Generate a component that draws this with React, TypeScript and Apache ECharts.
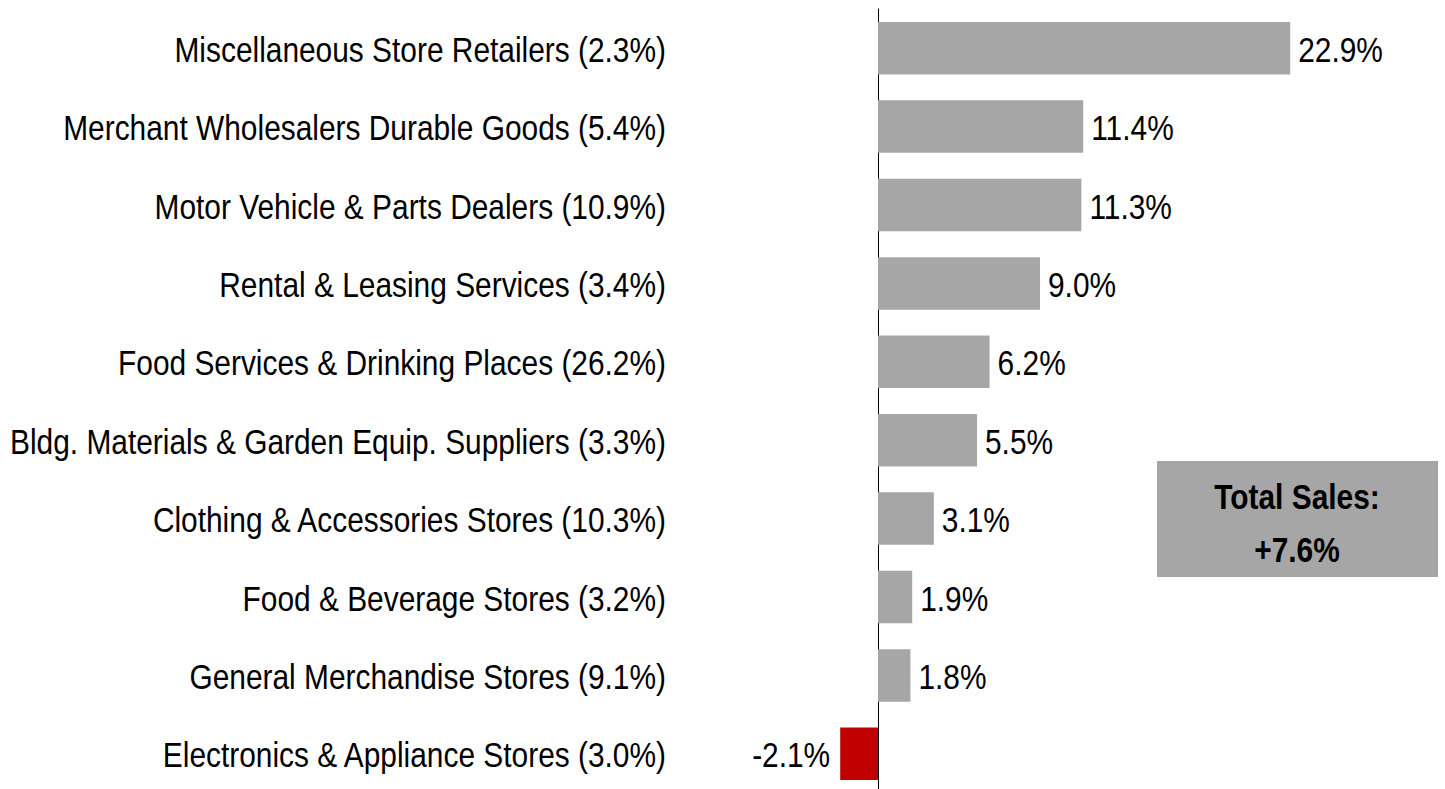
import React, { useEffect, useRef } from "react";
import * as echarts from "echarts";

const categories = [
  "Miscellaneous Store Retailers (2.3%)",
  "Merchant Wholesalers Durable Goods (5.4%)",
  "Motor Vehicle & Parts Dealers (10.9%)",
  "Rental & Leasing Services (3.4%)",
  "Food Services & Drinking Places (26.2%)",
  "Bldg. Materials & Garden Equip. Suppliers (3.3%)",
  "Clothing & Accessories Stores (10.3%)",
  "Food & Beverage Stores (3.2%)",
  "General Merchandise Stores (9.1%)",
  "Electronics & Appliance Stores (3.0%)",
];
const values = [22.9, 11.4, 11.3, 9.0, 6.2, 5.5, 3.1, 1.9, 1.8, -2.1];
const totalLines = ["Total Sales:", "+7.6%"];

const FONT = "'Liberation Sans', Arial, sans-serif";
const FS = 36;
const SX = 0.83;

export default function App() {
  const ref = useRef<HTMLDivElement>(null);
  useEffect(() => {
    if (!ref.current) return;
    const chart = echarts.init(ref.current, null, { renderer: "svg" });
    chart.setOption({
      animation: false,
      backgroundColor: "#ffffff",
      grid: { left: 788, width: 630, top: 9, height: 784, containLabel: false, outerBoundsMode: "none" },
      xAxis: {
        type: "value",
        min: -5,
        max: 30,
        show: false,
        splitLine: { show: false },
      },
      yAxis: {
        type: "category",
        data: categories,
        inverse: true,
        axisLine: { show: true, onZero: true, lineStyle: { color: "#000", width: 1 } },
        axisTick: { show: false },
        axisLabel: { show: false },
      },
      series: [
        {
          type: "bar",
          barWidth: "67%",
          data: values.map((v) => ({
            value: v,
            itemStyle: { color: v < 0 ? "#c00000" : "#a6a6a6" },
          })),
        },
      ],
    });

    const texts: any[] = [];
    categories.forEach((c, i) => {
      const p = chart.convertToPixel({ xAxisIndex: 0, yAxisIndex: 0 }, [0, i]) as number[];
      texts.push({
        type: "text",
        x: p[0] - 212,
        y: p[1] + 1,
        scaleX: SX,
        style: {
          text: c,
          fontSize: FS,
          fontFamily: FONT,
          fill: "#000",
          align: "right",
          verticalAlign: "middle",
        },
      });
    });
    values.forEach((v, i) => {
      const p = chart.convertToPixel({ xAxisIndex: 0, yAxisIndex: 0 }, [v, i]) as number[];
      texts.push({
        type: "text",
        x: v < 0 ? p[0] - 10 : p[0] + 8,
        y: p[1] + 1,
        scaleX: SX,
        style: {
          text: v.toFixed(1) + "%",
          fontSize: FS,
          fontFamily: FONT,
          fill: "#000",
          align: v < 0 ? "right" : "left",
          verticalAlign: "middle",
        },
      });
    });

    chart.setOption({
      graphic: [
        ...texts,
        {
          type: "rect",
          shape: { x: 1157, y: 461, width: 281, height: 116 },
          style: { fill: "#a6a6a6" },
        },
        {
          type: "text",
          x: 1297,
          y: 496,
          scaleX: SX,
          style: {
            text: totalLines[0],
            fontSize: FS,
            fontWeight: "bold",
            fontFamily: FONT,
            fill: "#000",
            align: "center",
            verticalAlign: "middle",
          },
        },
        {
          type: "text",
          x: 1297,
          y: 549,
          scaleX: SX,
          style: {
            text: totalLines[1],
            fontSize: FS,
            fontWeight: "bold",
            fontFamily: FONT,
            fill: "#000",
            align: "center",
            verticalAlign: "middle",
          },
        },
      ],
    });
    return () => chart.dispose();
  }, []);
  return (
    <div
      ref={ref}
      style={{ position: "absolute", left: 0, top: 0, width: 1445, height: 789 }}
    />
  );
}
